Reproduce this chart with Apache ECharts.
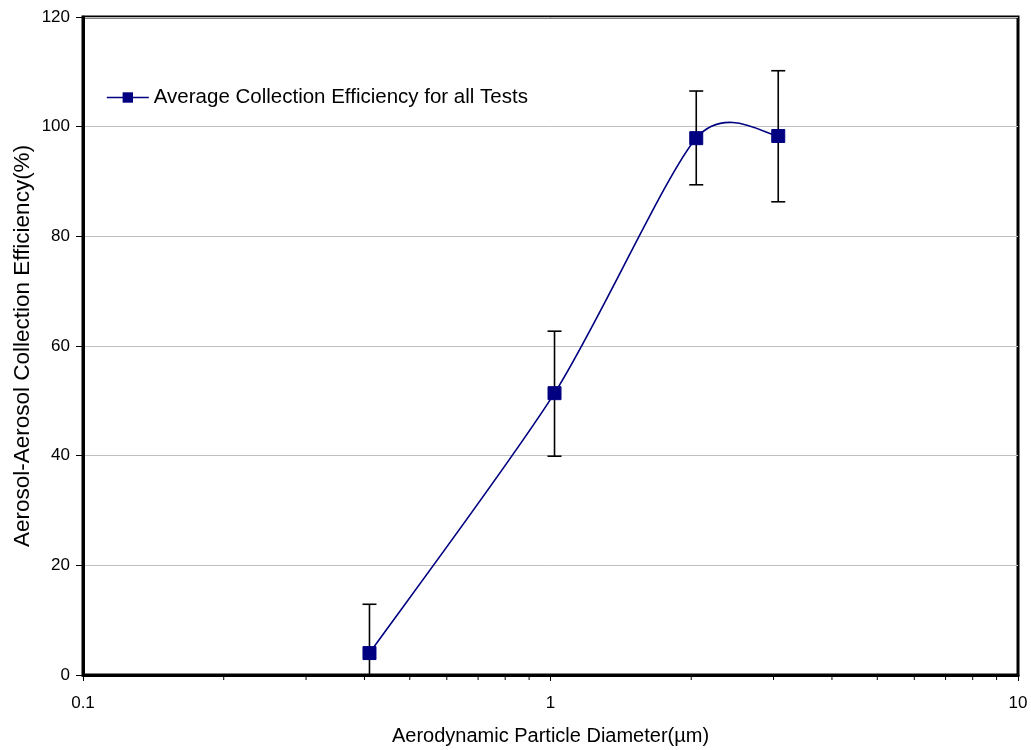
<!DOCTYPE html>
<html>
<head>
<meta charset="utf-8">
<script src="https://cdn.jsdelivr.net/npm/echarts@6/dist/echarts.min.js"></script>
<style>
  html, body { margin: 0; padding: 0; background: #fff; }
  #chart { width: 1031px; height: 750px; }
</style>
</head>
<body>
<div id="chart"></div>
<script>
// Particle diameters (µm) and mean collection efficiency (%)
const diameters = [0.41, 1.02, 2.05, 3.07];
const efficiency = [4.0, 51.4, 97.9, 98.3];
// Error bar extents (%)
const errLow = [0, 39.9, 89.4, 86.3];
const errHigh = [12.9, 62.7, 106.5, 110.2];
// Axis tick labels
const xTicks = [0.1, 1, 10];
const yTicks = [0, 20, 40, 60, 80, 100, 120];
// Minor log ticks within each decade
const minorTicks = [0.2, 0.3, 0.4, 0.5, 0.6, 0.7, 0.8, 0.9, 2, 3, 4, 5, 6, 7, 8, 9];

const seriesName = 'Average Collection Efficiency for all Tests';
const font = '"Liberation Sans", Arial, sans-serif';
const navy = '#000080';

const chart = echarts.init(document.getElementById('chart'));

// Smooth curve through the points (cardinal spline as cubic Béziers in pixel space)
function smoothPath(pts, k) {
  let d = 'M' + pts[0][0] + ' ' + pts[0][1];
  for (let i = 0; i < pts.length - 1; i++) {
    const p0 = pts[Math.max(i - 1, 0)];
    const p1 = pts[i];
    const p2 = pts[i + 1];
    const p3 = pts[Math.min(i + 2, pts.length - 1)];
    const c1 = [p1[0] + (p2[0] - p0[0]) / k, p1[1] + (p2[1] - p0[1]) / k];
    const c2 = [p2[0] - (p3[0] - p1[0]) / k, p2[1] - (p3[1] - p1[1]) / k];
    d += ' C' + c1[0] + ' ' + c1[1] + ' ' + c2[0] + ' ' + c2[1] + ' ' + p2[0] + ' ' + p2[1];
  }
  return d;
}

chart.setOption({
  backgroundColor: '#fff',
  animation: false,
  textStyle: { fontFamily: font },
  grid: {
    left: 83, right: 13, top: 17, bottom: 75,
    containLabel: false, outerBoundsMode: 'none',
    show: true, borderColor: '#000', borderWidth: 3, backgroundColor: 'transparent'
  },
  legend: {
    left: 101, top: 82,
    itemWidth: 42, itemHeight: 13, itemGap: 4,
    textStyle: { fontSize: 20.5, color: '#000', fontFamily: font },
    data: [{
      name: seriesName,
      lineStyle: { color: navy, width: 1.6, opacity: 1 }
    }]
  },
  xAxis: {
    type: 'log', logBase: 10,
    min: xTicks[0], max: xTicks[xTicks.length - 1],
    name: 'Aerodynamic Particle Diameter(µm)',
    nameLocation: 'middle', nameGap: 51, nameMoveOverlap: false,
    nameTextStyle: { fontSize: 20, color: '#000', fontFamily: font },
    axisLine: { lineStyle: { color: '#000', width: 3 } },
    axisTick: { show: true, length: 6, lineStyle: { color: '#000', width: 1 } },
    axisLabel: {
      fontSize: 17, color: '#000', margin: 20,
      formatter: v => String(v)
    },
    splitLine: { show: false }
  },
  yAxis: {
    type: 'value', min: yTicks[0], max: yTicks[yTicks.length - 1], interval: 20,
    name: 'Aerosol-Aerosol Collection Efficiency(%)',
    nameLocation: 'middle', nameGap: 49, nameMoveOverlap: false,
    nameTextStyle: { fontSize: 22.5, color: '#000', fontFamily: font },
    axisLine: { show: true, lineStyle: { color: '#000', width: 3 } },
    axisTick: { show: true, length: 7, lineStyle: { color: '#000', width: 1 } },
    axisLabel: { fontSize: 17, color: '#000', margin: 13 },
    splitLine: { show: true, lineStyle: { color: '#c0c0c0', width: 1 } }
  },
  series: [
    {
      type: 'custom',
      name: 'minor ticks',
      silent: true,
      clip: false,
      z: 1,
      data: minorTicks.map(v => [v, 0]),
      renderItem: function (params, api) {
        const p = api.coord([api.value(0), 0]);
        return {
          type: 'line',
          shape: { x1: p[0], y1: p[1], x2: p[0], y2: p[1] + 5 },
          style: { stroke: '#000', lineWidth: 1 }
        };
      }
    },
    {
      type: 'custom',
      name: 'error bars',
      silent: true,
      z: 2,
      data: diameters.map((d, i) => [d, errLow[i], errHigh[i]]),
      renderItem: function (params, api) {
        const x = api.value(0);
        const lo = api.coord([x, api.value(1)]);
        const hi = api.coord([x, api.value(2)]);
        const half = 7;
        const style = { stroke: '#000', lineWidth: 1.6 };
        return {
          type: 'group',
          children: [
            { type: 'line', shape: { x1: lo[0], y1: lo[1], x2: hi[0], y2: hi[1] }, style },
            { type: 'line', shape: { x1: hi[0] - half, y1: hi[1], x2: hi[0] + half, y2: hi[1] }, style },
            { type: 'line', shape: { x1: lo[0] - half, y1: lo[1], x2: lo[0] + half, y2: lo[1] }, style }
          ]
        };
      }
    },
    {
      type: 'custom',
      name: 'curve',
      silent: true,
      z: 3,
      data: [[diameters[0], efficiency[0]]],
      renderItem: function (params, api) {
        const pts = diameters.map((d, i) => api.coord([d, efficiency[i]]));
        return {
          type: 'path',
          shape: { pathData: smoothPath(pts, 7.5) },
          style: { stroke: navy, lineWidth: 1.6, fill: null }
        };
      }
    },
    {
      type: 'line',
      name: seriesName,
      z: 5,
      data: diameters.map((d, i) => [d, efficiency[i]]),
      symbol: 'rect',
      symbolSize: 13,
      lineStyle: { color: navy, width: 1.6, opacity: 0 },
      itemStyle: { color: navy, borderColor: navy }
    }
  ]
});
</script>
</body>
</html>
